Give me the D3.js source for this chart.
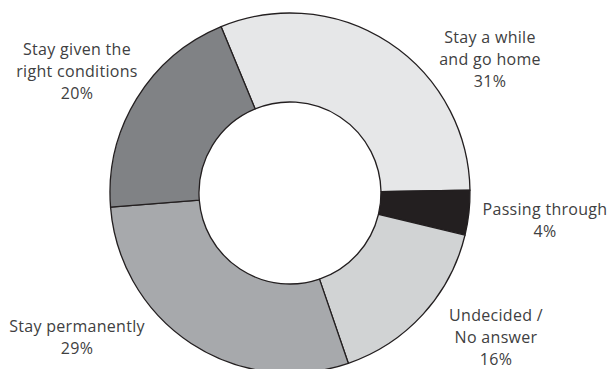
<!DOCTYPE html>
<html>
<head>
<meta charset="utf-8">
<script src="https://cdn.jsdelivr.net/npm/d3@7"></script>
<style>
  body { margin: 0; background: #fff; }
  svg { display: block; }
</style>
</head>
<body>
<svg width="610" height="369"></svg>
<script>
const width = 610, height = 369;

// data, clockwise from the upper left
const categories = [
  "Stay a while|and go home",
  "Passing through",
  "Undecided /|No answer",
  "Stay permanently",
  "Stay given the|right conditions"
];
const shares = [31, 4, 16, 29, 20];
const fills = ["#e6e7e8", "#231f20", "#d1d3d4", "#a7a9ac", "#808285"];

// where each label block sits (x centre, y of first baseline)
const labelAt = [[490, 43], [545, 215], [496, 321], [77, 332], [77, 55]];

const cx = 290, cy = 193;
const outerR = 180, innerR = 91;
const startDeg = -22.5;

const svg = d3.select("svg");
const g = svg.append("g").attr("transform", `translate(${cx}, ${cy})`);

const data = categories.map((c, i) => ({label: c, value: shares[i], fill: fills[i], i: i}));

const pie = d3.pie()
  .value(d => d.value)
  .sort(null)
  .startAngle(startDeg * Math.PI / 180)
  .endAngle(startDeg * Math.PI / 180 + 2 * Math.PI);

const arc = d3.arc().innerRadius(innerR).outerRadius(outerR);

g.selectAll("path")
  .data(pie(data))
  .enter().append("path")
  .attr("d", arc)
  .attr("fill", d => d.data.fill)
  .attr("stroke", "#231f20")
  .attr("stroke-width", 1.3)
  .attr("stroke-linejoin", "round");

// labels
const lineH = 21.8;
data.forEach((d, i) => {
  const lines = d.label.split("|").concat([d.value + "%"]);
  const t = svg.append("text")
    .attr("text-anchor", "middle")
    .attr("font-family", "'Open Sans', 'Noto Sans', sans-serif")
    .attr("font-size", "16px")
    .attr("letter-spacing", "0.3px")
    .attr("fill", "#404041");
  lines.forEach((ln, k) => {
    t.append("tspan")
      .attr("x", labelAt[i][0])
      .attr("y", labelAt[i][1] + k * lineH)
      .text(ln);
  });
});
</script>
</body>
</html>
